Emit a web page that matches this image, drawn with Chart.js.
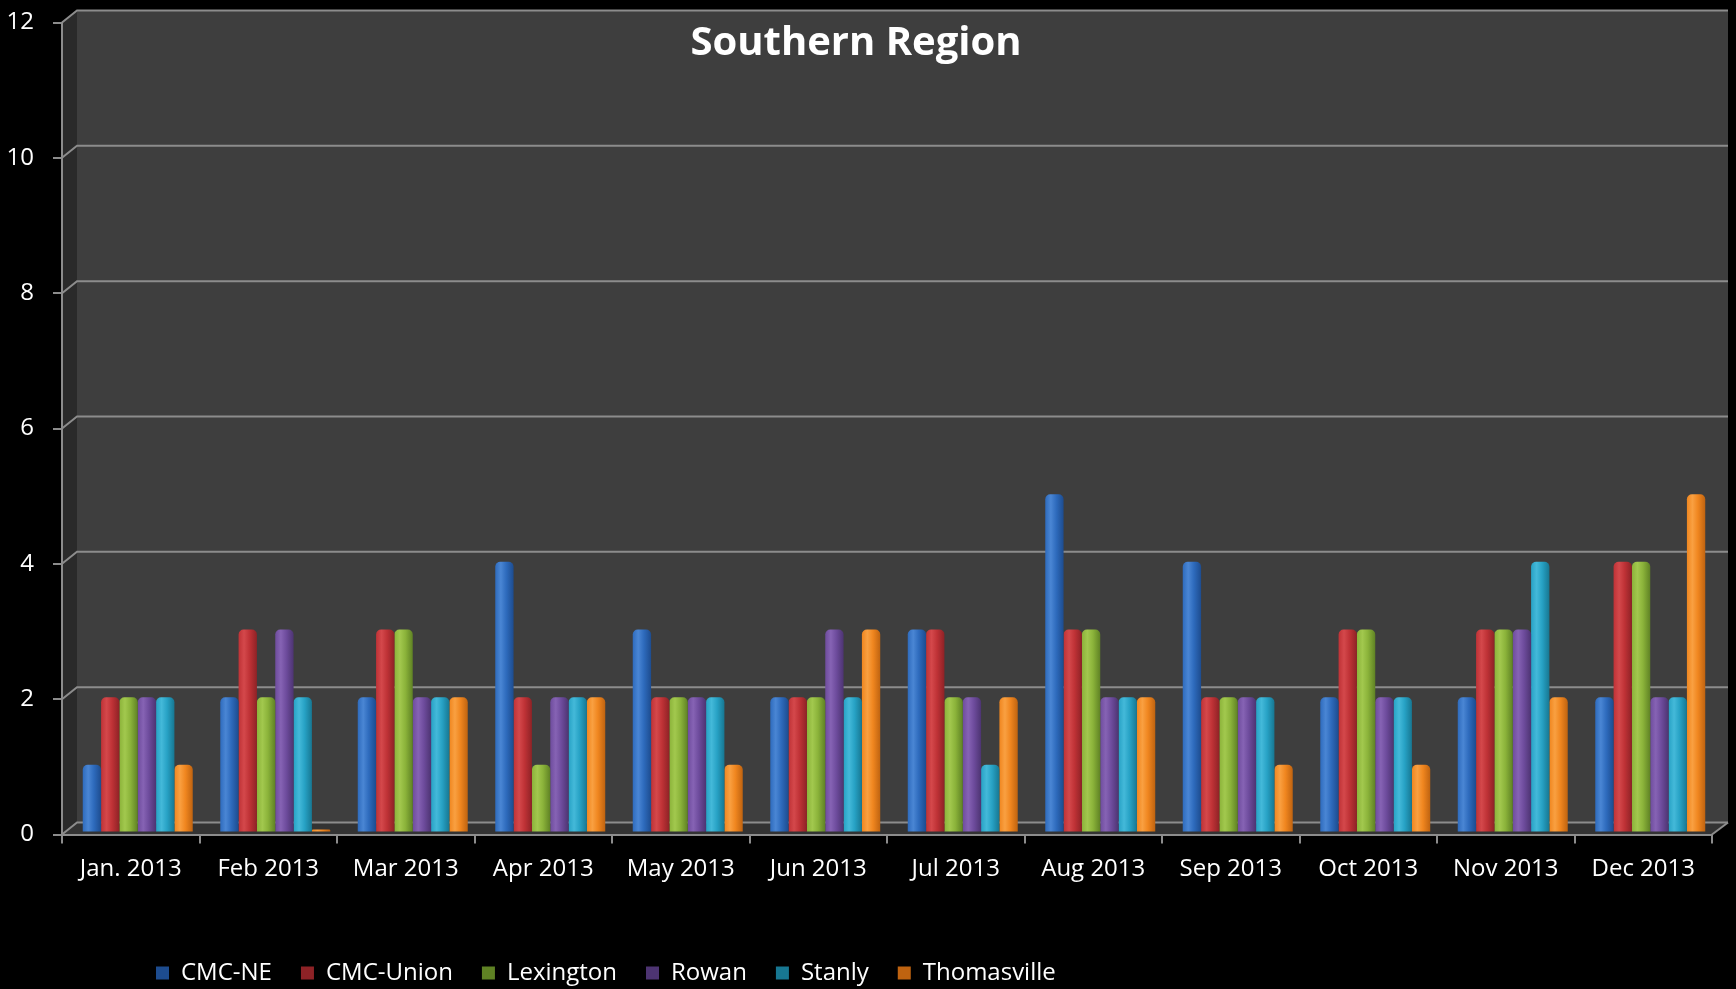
<!DOCTYPE html>
<html><head><meta charset="utf-8">
<script src="https://cdn.jsdelivr.net/npm/chart.js@4/dist/chart.umd.min.js"></script>
<style>html,body{margin:0;padding:0;background:#000;overflow:hidden}canvas{display:block}</style>
</head><body><canvas id="c" width="1736" height="989"></canvas>
<script>
const categories = ['Jan. 2013','Feb 2013','Mar 2013','Apr 2013','May 2013','Jun 2013','Jul 2013','Aug 2013','Sep 2013','Oct 2013','Nov 2013','Dec 2013'];
const seriesNames = ['CMC-NE','CMC-Union','Lexington','Rowan','Stanly','Thomasville'];
const cmcNE       = [1,2,2,4,3,2,3,5,4,2,2,2];
const cmcUnion    = [2,3,3,2,2,2,3,3,2,3,3,4];
const lexington   = [2,2,3,1,2,2,2,3,2,3,3,4];
const rowan       = [2,3,2,2,2,3,2,2,2,2,3,2];
const stanly      = [2,2,2,2,2,2,1,2,2,2,4,2];
const thomasville = [1,0,2,2,1,3,2,2,1,1,2,5];
const yTicks = [0,2,4,6,8,10,12];
const titleText = 'Southern Region';

const palette = [
  ['#2e6bbd','#4a86d4','#1d4c8f'],
  ['#bf3236','#d4484b','#8e2226'],
  ['#8bb33a','#a2c84e','#5f8224'],
  ['#6e4c9d','#8663b4','#4d3472'],
  ['#27a2c5','#44b9d9','#177792'],
  ['#f0861f','#f9a041','#bf6310']
];
const CAT_PCT = 0.8;

function barFill(i) {
  const [base, light, dark] = palette[i];
  return (ctx) => {
    const chart = ctx.chart, xs = chart.scales && chart.scales.x;
    if (!xs || ctx.dataIndex === undefined || !chart.chartArea) return base;
    const catW = (xs.right - xs.left) / categories.length;
    const bw = catW * CAT_PCT / seriesNames.length;
    const cx = xs.getPixelForValue(ctx.dataIndex) + (ctx.datasetIndex - (seriesNames.length - 1) / 2) * bw;
    const g = chart.ctx.createLinearGradient(cx - bw / 2, 0, cx + bw / 2, 0);
    g.addColorStop(0, base);
    g.addColorStop(0.3, light);
    g.addColorStop(0.6, base);
    g.addColorStop(1, dark);
    return g;
  };
}

const seriesValues = [cmcNE, cmcUnion, lexington, rowan, stanly, thomasville];

const DX = 15, DY = -12, RX = 16;
const wallPlugin = {
  id: 'wall',
  beforeDraw(chart) {
    const {ctx, chartArea: a, scales: {y}} = chart;
    ctx.save();
    ctx.fillStyle = '#000';
    ctx.fillRect(0, 0, chart.width, chart.height);
    ctx.fillStyle = '#3e3e3e';
    ctx.fillRect(a.left + DX, a.top + DY, (a.right + RX) - (a.left + DX), a.bottom - a.top);
    ctx.fillStyle = '#2a2a2a';
    ctx.beginPath();
    ctx.moveTo(a.left, a.top); ctx.lineTo(a.left + DX, a.top + DY);
    ctx.lineTo(a.left + DX, a.bottom + DY); ctx.lineTo(a.left, a.bottom);
    ctx.closePath(); ctx.fill();
    ctx.fillStyle = '#333333';
    ctx.beginPath();
    ctx.moveTo(a.left, a.bottom); ctx.lineTo(a.left + DX, a.bottom + DY);
    ctx.lineTo(a.right + RX, a.bottom + DY); ctx.lineTo(a.right, a.bottom);
    ctx.closePath(); ctx.fill();
    ctx.strokeStyle = '#8c8c8c';
    ctx.lineWidth = 2;
    y.ticks.forEach(t => {
      const py = y.getPixelForValue(t.value);
      ctx.beginPath();
      ctx.moveTo(a.left, py);
      ctx.lineTo(a.left + DX, py + DY);
      ctx.lineTo(a.right + RX, py + DY);
      ctx.stroke();
    });
    ctx.restore();
  },
  beforeDatasetsDraw(chart) {
    chart.ctx.save();
    chart.ctx.translate(7, -2);
  },
  afterDatasetsDraw(chart) {
    chart.ctx.restore();
  },
  afterDraw(chart) {
    const {ctx, chartArea: a} = chart;
    ctx.save();
    ctx.strokeStyle = '#8c8c8c';
    ctx.lineWidth = 2;
    ctx.beginPath();
    ctx.moveTo(a.right, a.bottom); ctx.lineTo(a.right + RX, a.bottom + DY);
    ctx.stroke();
    ctx.restore();
  },
  afterLayout(chart) {
    const lg = chart.legend;
    if (lg) { lg.left = 127; lg.right = 1700; lg.top = 932; }
  }
};

new Chart(document.getElementById('c'), {
  type: 'bar',
  data: {
    labels: categories,
    datasets: seriesNames.map((name, i) => ({
      label: name,
      data: seriesValues[i],
      backgroundColor: barFill(i),
      borderWidth: 0,
      borderRadius: {topLeft: 5, topRight: 5, bottomLeft: 0, bottomRight: 0},
      borderSkipped: 'bottom',
      minBarLength: i === 5 ? 3 : 0,
      barPercentage: 1.0,
      categoryPercentage: CAT_PCT
    }))
  },
  options: {
    responsive: false,
    devicePixelRatio: 1,
    animation: false,
    events: [],
    layout: {autoPadding: false, padding: {left: 0, right: 24, top: 0, bottom: 0}},
    scales: {
      x: {
        grid: {display: true, drawOnChartArea: false, drawTicks: true, tickLength: 9, color: '#8c8c8c', lineWidth: 2, offset: true},
        border: {display: true, color: '#8c8c8c', width: 2},
        ticks: {color: '#ffffff', font: {family: 'Open Sans', size: 24}, padding: 11, maxRotation: 0, autoSkip: false},
        afterFit(s) { s.height = 91.5; s.paddingLeft = 0; s.paddingRight = 0; }
      },
      y: {
        min: 0, max: 12,
        afterBuildTicks(s) { s.ticks = yTicks.map(v => ({value: v})); },
        grid: {display: true, drawOnChartArea: false, drawTicks: true, tickLength: 9, color: '#8c8c8c', lineWidth: 2},
        border: {display: true, color: '#8c8c8c', width: 2},
        ticks: {color: '#ffffff', font: {family: 'Open Sans', size: 24}, padding: 19},
        afterFit(s) { s.width = 62; s.paddingTop = 0; s.paddingBottom = 0; }
      }
    },
    plugins: {
      tooltip: {enabled: false},
      title: {
        display: true,
        text: titleText,
        color: '#ffffff',
        font: {family: 'Open Sans', size: 40, weight: 'bold', lineHeight: 1.2},
        padding: {top: 20, bottom: -45.5}
      },
      legend: {
        display: true,
        position: 'bottom',
        align: 'start',
        labels: {
          color: '#ffffff',
          font: {family: 'Open Sans', size: 24},
          boxWidth: 13, boxHeight: 13,
          padding: 29
        }
      }
    }
  },
  plugins: [wallPlugin]
});
</script>
</body></html>
